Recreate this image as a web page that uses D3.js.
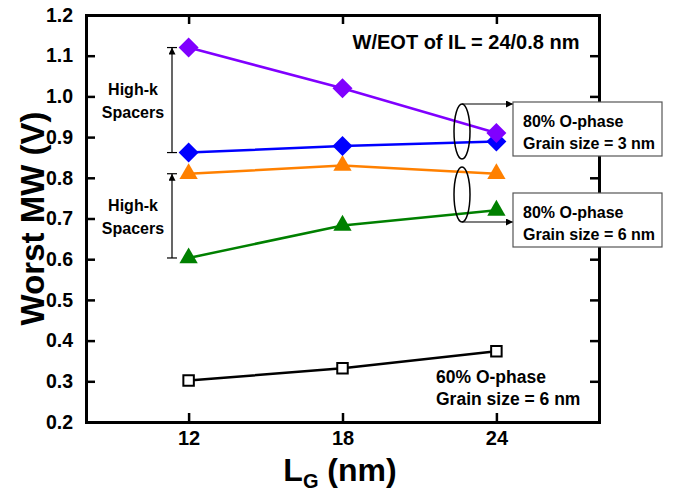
<!DOCTYPE html>
<html>
<head>
<meta charset="utf-8">
<script src="https://cdn.jsdelivr.net/npm/d3@7"></script>
<style>
  body { margin: 0; background: #fff; }
  svg text { font-family: "Liberation Sans", Arial, sans-serif; font-weight: bold; }
</style>
</head>
<body>
<svg id="chart" width="673" height="495"></svg>
<script>
// gate length values (nm)
const gateLengths = [12, 18, 24];
const xTicks = [12, 18, 24];
const yTicks = [0.2, 0.3, 0.4, 0.5, 0.6, 0.7, 0.8, 0.9, 1.0, 1.1, 1.2];

// worst memory window (V) per series
const purpleMW = [1.12, 1.02, 0.91];
const blueMW = [0.862, 0.878, 0.889];
const orangeMW = [0.81, 0.83, 0.81];
const greenMW = [0.603, 0.683, 0.72];
const blackMW = [0.302, 0.332, 0.374];

const series = [
  { values: blackMW, color: '#000', shape: 'square' },
  { values: greenMW, color: '#008000', shape: 'triangle' },
  { values: orangeMW, color: '#ff8000', shape: 'triangle' },
  { values: blueMW, color: '#0000ff', shape: 'diamond' },
  { values: purpleMW, color: '#8000ff', shape: 'diamond' }
];

const margin = { left: 86, right: 74, top: 15, bottom: 73 };
const W = 673, H = 495;
const svg = d3.select('#chart');

const x = d3.scaleLinear().domain([8, 28]).range([margin.left, W - margin.right]);
const y = d3.scaleLinear().domain([0.2, 1.2]).range([H - margin.bottom, margin.top]);

const axisG = svg.append('g');
const fmt = d3.format('.1f');

// axes with inward ticks
axisG.append('g').attr('transform', `translate(0,${y(0.2)})`)
  .call(d3.axisBottom(x).tickValues(xTicks).tickSize(-9).tickPadding(9).tickFormat(d3.format('d')))
  .call(g => g.selectAll('text').attr('font-size', 20).attr('fill', '#000'));
axisG.append('g').attr('transform', `translate(0,${y(1.2)})`)
  .call(d3.axisTop(x).tickValues(xTicks).tickSize(-9).tickFormat(''));
axisG.append('g').attr('transform', `translate(${x(8)},0)`)
  .call(d3.axisLeft(y).tickValues(yTicks).tickSize(-9).tickPadding(13).tickFormat(fmt))
  .call(g => g.selectAll('text').attr('font-size', 19.5).attr('fill', '#000'));
axisG.append('g').attr('transform', `translate(${x(28)},0)`)
  .call(d3.axisRight(y).tickValues(yTicks).tickSize(-9).tickFormat(''));
axisG.selectAll('.domain').attr('stroke', '#000').attr('stroke-width', 3);
axisG.selectAll('.tick line').attr('stroke', '#000').attr('stroke-width', 2.5);

// axis titles
svg.append('text')
  .attr('transform', `translate(44,${(y(0.2) + y(1.2)) / 2}) rotate(-90)`)
  .attr('text-anchor', 'middle').attr('font-size', 33).text('Worst MW (V)');
const xt = svg.append('text').attr('x', 340).attr('y', 481)
  .attr('text-anchor', 'middle').attr('font-size', 32);
xt.append('tspan').text('L');
xt.append('tspan').attr('font-size', 20).attr('dy', 7).text('G');
xt.append('tspan').attr('dy', -7).text(' (nm)');

// data lines and markers
const line = d3.line().x((d, i) => x(gateLengths[i])).y(d => y(d));
const symbols = {
  square: d3.symbol().type(d3.symbolSquare).size(110),
  triangle: d3.symbol().type(d3.symbolTriangle).size(145),
  diamond: d3.symbol().type(d3.symbolSquare).size(200)
};
series.forEach(s => {
  svg.append('path').datum(s.values).attr('d', line)
    .attr('fill', 'none').attr('stroke', s.color).attr('stroke-width', 2.5);
  svg.selectAll(null).data(s.values).join('path')
    .attr('transform', (d, i) => `translate(${x(gateLengths[i])},${y(d)})` +
      (s.shape === 'diamond' ? ' rotate(45)' : ''))
    .attr('d', symbols[s.shape])
    .attr('fill', s.shape === 'square' ? '#fff' : s.color)
    .attr('stroke', s.color).attr('stroke-width', s.shape === 'square' ? 2 : 0);
});

// arrow marker
svg.append('defs').append('marker')
  .attr('id', 'arr').attr('viewBox', '0 0 10 10').attr('refX', 10).attr('refY', 5)
  .attr('markerWidth', 10).attr('markerHeight', 7).attr('markerUnits', 'userSpaceOnUse')
  .attr('orient', 'auto')
  .append('path').attr('d', 'M0,0L10,5L0,10Z').attr('fill', '#000');

// high-k spacer brackets
const ax = 172;
[[purpleMW[0], blueMW[0]], [orangeMW[0], greenMW[0]]].forEach(([top, bot]) => {
  const g = svg.append('g').attr('stroke', '#000').attr('stroke-width', 1.2);
  g.append('line').attr('x1', ax).attr('x2', ax).attr('y1', y(bot)).attr('y2', y(top))
    .attr('marker-end', 'url(#arr)');
  g.append('line').attr('x1', ax - 5).attr('x2', ax + 5).attr('y1', y(top)).attr('y2', y(top));
  g.append('line').attr('x1', ax - 5).attr('x2', ax + 5).attr('y1', y(bot)).attr('y2', y(bot));
  const mid = (y(top) + y(bot)) / 2;
  const t = svg.append('text').attr('text-anchor', 'middle').attr('font-size', 16);
  t.append('tspan').attr('x', 133).attr('y', mid - 5).text('High-k');
  t.append('tspan').attr('x', 133).attr('y', mid + 18).text('Spacers');
});

// ellipses and legend boxes
const ex = 462;
const groups = [
  { top: 104, bot: 159, arrowY: 104, box: 102, label: 'Grain size = 3 nm' },
  { top: 167, bot: 222, arrowY: 222, box: 193, label: 'Grain size = 6 nm' }
];
groups.forEach(gr => {
  svg.append('ellipse').attr('cx', ex).attr('cy', (gr.top + gr.bot) / 2)
    .attr('rx', 8).attr('ry', (gr.bot - gr.top) / 2)
    .attr('fill', 'none').attr('stroke', '#000').attr('stroke-width', 1.5);
  svg.append('line').attr('x1', ex).attr('x2', 513).attr('y1', gr.arrowY).attr('y2', gr.arrowY)
    .attr('stroke', '#000').attr('stroke-width', 1.2).attr('marker-end', 'url(#arr)');
  svg.append('rect').attr('x', 513).attr('y', gr.box).attr('width', 149).attr('height', 54)
    .attr('fill', '#fff').attr('stroke', '#555').attr('stroke-width', 1.2);
  const t = svg.append('text').attr('font-size', 16);
  t.append('tspan').attr('x', 523).attr('y', gr.box + 25).text('80% O-phase');
  t.append('tspan').attr('x', 523).attr('y', gr.box + 47).text(gr.label);
});

// other labels
svg.append('text').attr('x', 466).attr('y', 49).attr('text-anchor', 'middle')
  .attr('font-size', 20).text('W/EOT of IL = 24/0.8 nm');
const t3 = svg.append('text').attr('font-size', 17.5);
t3.append('tspan').attr('x', 436).attr('y', 383).text('60% O-phase');
t3.append('tspan').attr('x', 436).attr('y', 405).text('Grain size = 6 nm');
</script>
</body>
</html>
